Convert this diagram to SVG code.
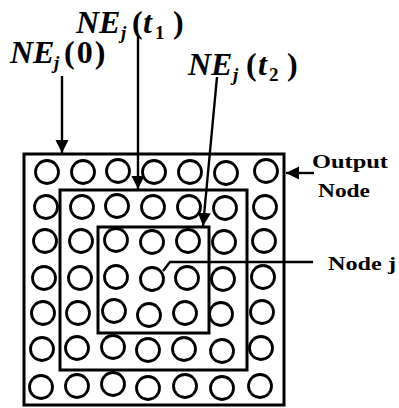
<svg xmlns="http://www.w3.org/2000/svg" width="399" height="408" viewBox="0 0 399 408">
<style>
.bg{fill:#ffffff}
.frame{fill:none;stroke:#000;stroke-width:3}
.n{fill:none;stroke:#000;stroke-width:2.8}
.line{fill:none;stroke:#000;stroke-width:2.4}
.math{font-family:"Liberation Serif",serif;font-style:italic;font-weight:bold;font-size:32px;fill:#000}
.sub{font-size:19px}
.up{font-style:normal}
.lbl{font-family:"Liberation Serif",serif;font-weight:bold;font-size:19px;fill:#000}
</style>
<defs>
<marker id="ah" viewBox="0 0 10 10" refX="10" refY="5" markerWidth="5.5" markerHeight="5.5" orient="auto" markerUnits="strokeWidth">
<path d="M0,0 L10,5 L0,10 z" fill="#000"/>
</marker>
</defs>
<rect class="bg" x="0" y="0" width="399" height="408"/>
<g id="regions">
<rect id="ne0" class="frame" x="24" y="154" width="260" height="251"/>
<rect id="ne1" class="frame" x="60" y="190" width="187" height="180"/>
<rect id="ne2" class="frame" x="98" y="227" width="111" height="106"/>
</g>
<g id="nodes">
<g id="n00"><circle class="n" cx="47" cy="172" r="11.5"/></g>
<g id="n01"><circle class="n" cx="83" cy="172" r="11.5"/></g>
<g id="n02"><circle class="n" cx="118" cy="171" r="11.5"/></g>
<g id="n03"><circle class="n" cx="154" cy="172" r="11.5"/></g>
<g id="n04"><circle class="n" cx="190" cy="172" r="11.5"/></g>
<g id="n05"><circle class="n" cx="226" cy="173" r="11.5"/></g>
<g id="n06"><circle class="n" cx="266" cy="171" r="11.5"/></g>
<g id="n10"><circle class="n" cx="46" cy="207" r="11.5"/></g>
<g id="n11"><circle class="n" cx="82" cy="207" r="11.5"/></g>
<g id="n12"><circle class="n" cx="117" cy="206" r="11.5"/></g>
<g id="n13"><circle class="n" cx="153" cy="207" r="11.5"/></g>
<g id="n14"><circle class="n" cx="189" cy="207" r="11.5"/></g>
<g id="n15"><circle class="n" cx="225" cy="208" r="11.5"/></g>
<g id="n16"><circle class="n" cx="265" cy="207" r="11.5"/></g>
<g id="n20"><circle class="n" cx="45" cy="241" r="11.5"/></g>
<g id="n21"><circle class="n" cx="81" cy="241" r="11.5"/></g>
<g id="n22"><circle class="n" cx="116" cy="240" r="11.5"/></g>
<g id="n23"><circle class="n" cx="152" cy="242" r="11.5"/></g>
<g id="n24"><circle class="n" cx="188" cy="241" r="11.5"/></g>
<g id="n25"><circle class="n" cx="224" cy="242" r="11.5"/></g>
<g id="n26"><circle class="n" cx="264" cy="241" r="11.5"/></g>
<g id="n30"><circle class="n" cx="44" cy="278" r="11.5"/></g>
<g id="n31"><circle class="n" cx="80" cy="278" r="11.5"/></g>
<g id="n32"><circle class="n" cx="116" cy="277" r="11.5"/></g>
<g id="n33"><circle class="n" cx="152" cy="279" r="11.5"/></g>
<g id="n34"><circle class="n" cx="187" cy="278" r="11.5"/></g>
<g id="n35"><circle class="n" cx="223" cy="279" r="11.5"/></g>
<g id="n36"><circle class="n" cx="263" cy="277" r="11.5"/></g>
<g id="n40"><circle class="n" cx="43" cy="313" r="11.5"/></g>
<g id="n41"><circle class="n" cx="78" cy="313" r="11.5"/></g>
<g id="n42"><circle class="n" cx="114" cy="311" r="11.5"/></g>
<g id="n43"><circle class="n" cx="149" cy="315" r="11.5"/></g>
<g id="n44"><circle class="n" cx="185" cy="313" r="11.5"/></g>
<g id="n45"><circle class="n" cx="221" cy="314" r="11.5"/></g>
<g id="n46"><circle class="n" cx="262" cy="312" r="11.5"/></g>
<g id="n50"><circle class="n" cx="42" cy="349" r="11.5"/></g>
<g id="n51"><circle class="n" cx="77" cy="348" r="11.5"/></g>
<g id="n52"><circle class="n" cx="113" cy="347" r="11.5"/></g>
<g id="n53"><circle class="n" cx="148" cy="350" r="11.5"/></g>
<g id="n54"><circle class="n" cx="184" cy="349" r="11.5"/></g>
<g id="n55"><circle class="n" cx="222" cy="351" r="11.5"/></g>
<g id="n56"><circle class="n" cx="261" cy="348" r="11.5"/></g>
<g id="n60"><circle class="n" cx="41" cy="387" r="11.5"/></g>
<g id="n61"><circle class="n" cx="77" cy="386" r="11.5"/></g>
<g id="n62"><circle class="n" cx="113" cy="384" r="11.5"/></g>
<g id="n63"><circle class="n" cx="148" cy="388" r="11.5"/></g>
<g id="n64"><circle class="n" cx="185" cy="386" r="11.5"/></g>
<g id="n65"><circle class="n" cx="222" cy="388" r="11.5"/></g>
<g id="n66"><circle class="n" cx="260" cy="386" r="11.5"/></g>
</g>
<g id="connectors">
<line class="line" x1="62" y1="76" x2="62" y2="153" marker-end="url(#ah)"/>
<line class="line" x1="138" y1="35" x2="138" y2="189" marker-end="url(#ah)"/>
<line class="line" x1="217" y1="77" x2="203" y2="226" marker-end="url(#ah)"/>
<line class="line" x1="314" y1="173" x2="286" y2="173" marker-end="url(#ah)"/>
<polyline class="line" points="163,271 170,262 313,262"/>
</g>
<g id="labels">
<text class="math" x="10" y="63">NE<tspan class="sub" x="54" y="69">j</tspan><tspan class="up" x="64" y="63" letter-spacing="2">(0)</tspan></text>
<text class="math" x="76" y="33">NE<tspan class="sub" x="121" y="39">j</tspan><tspan class="up" x="132" y="33">(</tspan><tspan x="143" y="33">t</tspan><tspan class="sub up" x="155" y="39">1</tspan><tspan class="up" x="173" y="33">)</tspan></text>
<text class="math" x="188" y="75">NE<tspan class="sub" x="233" y="81">j</tspan><tspan class="up" x="246" y="75">(</tspan><tspan x="258" y="75">t</tspan><tspan class="sub up" x="269" y="81">2</tspan><tspan class="up" x="287" y="75">)</tspan></text>
<text class="lbl" x="312" y="168" textLength="76" lengthAdjust="spacingAndGlyphs">Output</text>
<text class="lbl" x="318" y="197" textLength="52" lengthAdjust="spacingAndGlyphs">Node</text>
<text class="lbl" x="328" y="270" textLength="68" lengthAdjust="spacingAndGlyphs">Node j</text>
</g>
</svg>
